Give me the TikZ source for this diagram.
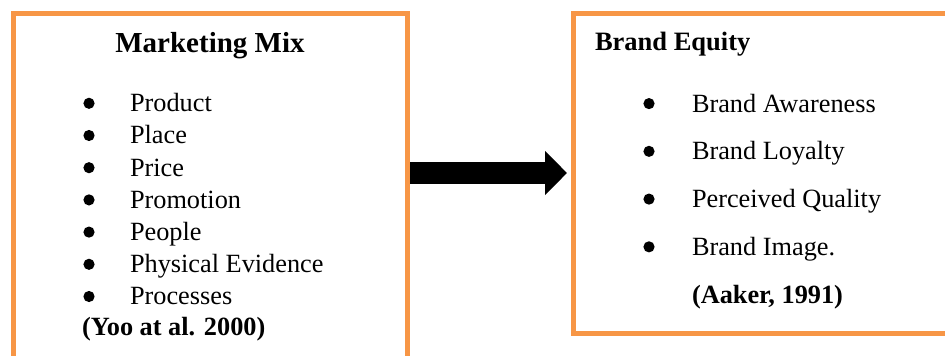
\documentclass[tikz,border=0pt]{standalone}
\usepackage{fontspec}
\setmainfont{Liberation Serif}
\usetikzlibrary{arrows.meta}
\definecolor{mixorange}{HTML}{F79646}

\begin{document}
\begin{tikzpicture}[x=1pt,y=-1pt]
    \tikzstyle{every node}=[inner sep=0pt,outer sep=0pt]
    \tikzstyle{panel}=[rectangle,draw=mixorange,line width=5pt,anchor=north west]
    \tikzstyle{heading}=[font=\bfseries\fontsize{29}{34}\selectfont]
    \tikzstyle{items}=[anchor=base west,font=\fontsize{26.3}{32.2}\selectfont]
    \tikzstyle{flow}=[line width=22pt,-{Triangle[length=22pt,width=43pt]}]
    \useasboundingbox (0,0) rectangle (945,356);
    % the two boxes run off the page (bottom / right)
    \node[panel,minimum width=394.5pt,minimum height=380pt] (mix) at (13,13) {};
    \node[panel,minimum width=420pt,minimum height=320pt] (equity) at (573.5,13) {};
    \node[heading,anchor=base] (mixtitle) at (210,52) {Marketing Mix};
    \node[items] (mixlist) at (130,111.7) {\begin{tabular}[t]{@{}l@{}}
      Product\\ Place\\ Price\\ Promotion\\ People\\ Physical Evidence\\ Processes
    \end{tabular}};
    \node[items,font=\bfseries\fontsize{26.3}{32.2}\selectfont] (mixsource) at (82,335.5) {(Yoo at al. 2000)};
    \node[heading,anchor=base west,font=\bfseries\fontsize{26.5}{32}\selectfont] (equitytitle) at (595,50) {Brand Equity};
    \node[items,font=\fontsize{26.3}{47.75}\selectfont] (equitylist) at (692,112) {\begin{tabular}[t]{@{}l@{}}
      Brand Awareness\\ Brand Loyalty\\ Perceived Quality\\ Brand Image.\\ \bfseries (Aaker, 1991)
    \end{tabular}};
    % list bullets
    \foreach \i in {0,...,6} \fill (89,103.3+32.2*\i) circle (5.6pt);
    \foreach \i in {0,...,3} \fill (649,103.6+47.75*\i) circle (5.6pt);
    \draw[flow,shorten <=2.5pt,shorten >=6.5pt] (mix.east |- equity.west) -- (equity.west);
\end{tikzpicture}
\end{document}
